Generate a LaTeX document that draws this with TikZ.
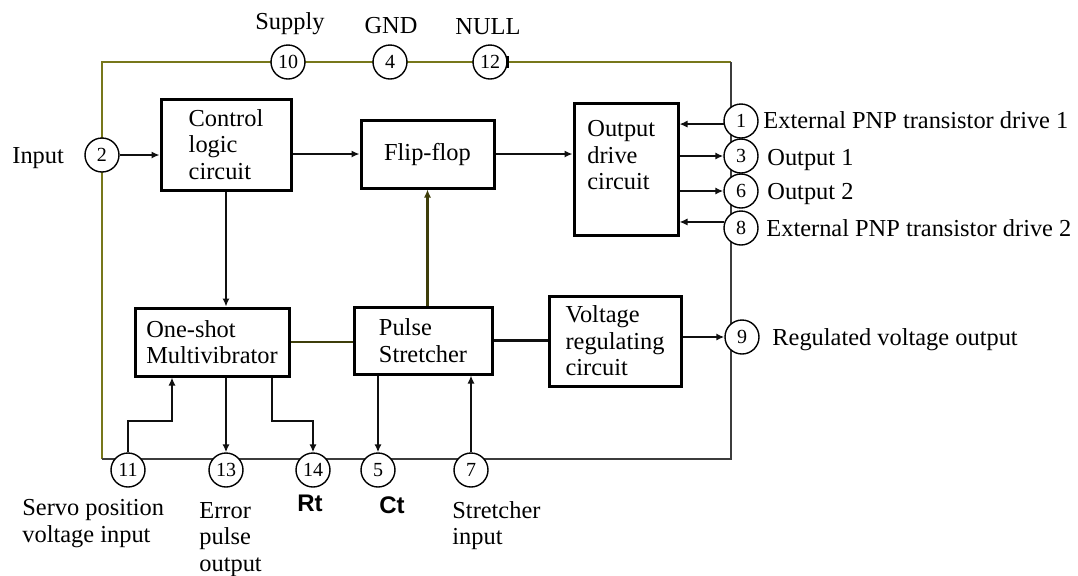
\documentclass[tikz,border=0pt]{standalone}
\usepackage{fontspec}
\setmainfont{Liberation Serif}
\newfontfamily\dgSans{Liberation Sans}
\usetikzlibrary{arrows.meta,positioning}

\definecolor{dgOlive}{HTML}{77771A}
\definecolor{dgGray}{HTML}{3C3C3C}
\definecolor{dgWire}{HTML}{101010}
\definecolor{dgWireOlive}{HTML}{3E3E0A}

\newcommand{\dgText}{\fontsize{12.2}{13.3}\selectfont}
\newcommand{\dgPin}{\fontsize{10}{10}\selectfont}
\newcommand{\dgTag}{\dgSans\fontsize{12}{13}\selectfont\bfseries}

\begin{document}
\begin{tikzpicture}[
    x=0.5pt, y=-0.5pt,
    every node/.style={font=\dgText, text=black, inner sep=0pt},
    block/.style={draw, line width=1.5pt, fill=white, align=left, inner sep=0pt},
    pin/.style={draw, circle, line width=0.7pt, fill=white, minimum size=17pt,
        inner sep=0pt, font=\dgPin},
    wire/.style={dgWire, line width=1.1pt, -{Latex[length=4pt,width=3.6pt]}},
    link/.style={dgWireOlive, line width=1.1pt},
]
\useasboundingbox (0,0) rectangle (1078,575);

% ----------------------------------------------------------------------
% Package outline (pins sit on it)
% ----------------------------------------------------------------------
\coordinate (fTL) at (102,62);
\coordinate (fTR) at (731,62);
\coordinate (fBR) at (731,459);
\coordinate (fBL) at (102,459);
\draw[dgOlive, line width=0.9pt] (fBL) -- (fTL) -- (fTR);
\draw[dgGray, line width=0.8pt] (fTR) -- (fBR) -- (fBL);

% ----------------------------------------------------------------------
% Function blocks
% ----------------------------------------------------------------------
\node[block, minimum width=65pt, minimum height=45.5pt] (ctrl) at (226,144.5)
    {Control\\logic\\circuit};
\node[block, minimum width=66.5pt, minimum height=34pt] (flip) at (427.5,154)
    {Flip-flop};
\node[block, minimum width=52pt, minimum height=66pt] (outdrv) at (626,169) {};
\node[anchor=north west, align=left] (outtxt) at (587,120)
    {Output\\drive\\circuit};
\node[block, minimum width=77pt, minimum height=34pt] (oneshot) at (212,342)
    {One-shot\\Multivibrator};
\node[block, minimum width=69pt, minimum height=33.5pt] (pulse) at (423,340.5)
    {Pulse\\Stretcher};
\node[block, minimum width=66pt, minimum height=45pt] (volt) at (615,341)
    {Voltage\\regulating\\circuit};

% ----------------------------------------------------------------------
% Pins: top, left, right, bottom
% ----------------------------------------------------------------------
\foreach \n/\x in {10/288, 4/390, 12/490}
    \node[pin] (p\n) at (\x,62) {\n};
\draw[line width=1.5pt] ([yshift=3pt]p12.east) -- ([yshift=-3pt]p12.east);

\node[pin] (p2) at (102,155) {2};

\foreach \n/\y in {1/121, 3/156, 6/191, 8/228}
    \node[pin] (p\n) at (741,\y) {\n};
\node[pin] (p9) at (742,337) {9};

\foreach \n/\x in {11/128, 13/226, 14/313, 5/378, 7/471}
    \node[pin] (p\n) at (\x,470) {\n};

% ----------------------------------------------------------------------
% Pin names
% ----------------------------------------------------------------------
\node[anchor=base] (lSupply) at (290,29) {Supply};
\node[anchor=base] (lGnd)    at (391,33) {GND};
\node[anchor=base] (lNull)   at (488,34) {NULL};
\node[anchor=base west] (lInput) at (12,163) {Input};

\node[anchor=base west] (lExt1) at (763,128) {External PNP transistor drive 1};
\node[anchor=base west] (lOut1) at (767,165) {Output 1};
\node[anchor=base west] (lOut2) at (767,199) {Output 2};
\node[anchor=base west] (lExt2) at (766,236) {External PNP transistor drive 2};
\node[anchor=base west] (lReg)  at (772,345) {Regulated voltage output};

\node[anchor=north west, align=left] (lServo) at (22,499)
    {Servo position\\voltage input};
\node[anchor=north west, align=left] (lError) at (199,502)
    {Error\\pulse\\output};
\node[font=\dgTag] (lRt) at (310,503) {Rt};
\node[font=\dgTag] (lCt) at (392,505) {Ct};
\node[anchor=north west, align=left] (lStretch) at (452,501)
    {Stretcher\\input};

% ----------------------------------------------------------------------
% Signal paths
% ----------------------------------------------------------------------
\draw[wire] (p2.east) -- (p2.east -| ctrl.west);
\draw[wire] (ctrl.east |- flip.west) -- (flip.west);
\draw[wire] (flip.east) -- (flip.east -| outdrv.west);

\draw[wire] (p1.190) -- (p1.190 -| outdrv.east);
\draw[wire] (p3.west -| outdrv.east) -- (p3.west);
\draw[wire] (p6.west -| outdrv.east) -- (p6.west);
\draw[wire] (p8.160) -- (p8.160 -| outdrv.east);

\draw[wire] (ctrl.south) -- (ctrl.south |- oneshot.north);
\draw[link] (oneshot.east) -- (oneshot.east -| pulse.west);
\draw[wire, dgWireOlive] (pulse.north -| flip.south) -- (flip.south);
\draw[link, dgWire] (pulse.east) -- (pulse.east -| volt.west);
\draw[wire] (p9.west -| volt.east) -- (p9.west);

% bottom pins
\coordinate (servoKnee) at (172,421);
\coordinate (rtKnee) at (272,421);
\draw[wire] (p11.north) |- (servoKnee) -- (servoKnee |- oneshot.south);
\draw[wire] (oneshot.south -| p13) -- (p13.north);
\draw[wire] (rtKnee |- oneshot.south) -- (rtKnee) -| (p14.north);
\draw[wire] (p5 |- pulse.south) -- (p5.north);
\draw[wire] (p7.north) -- (p7 |- pulse.south);

\end{tikzpicture}
\end{document}
